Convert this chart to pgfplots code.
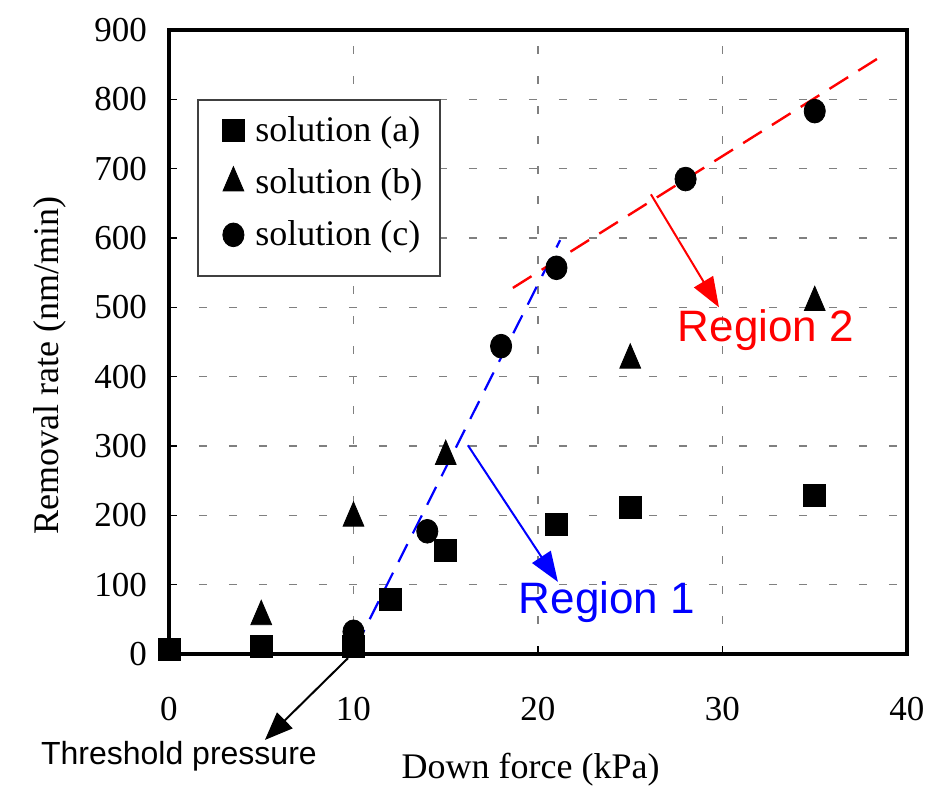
\documentclass[border=0pt]{standalone}
\usepackage{fontspec}
\setmainfont{Liberation Serif}
\newfontfamily\arialfont{Liberation Sans}
\usepackage{pgfplots}
\pgfplotsset{compat=1.18}
\usetikzlibrary{arrows.meta}
\begin{document}
\begin{tikzpicture}
\path[use as bounding box] (-84.5pt,-66pt) rectangle (379.5pt,327pt);
\begin{axis}[
  at={(0pt,0pt)}, anchor=south west,
  scale only axis, width=369pt, height=312pt,
  xmin=0, xmax=40, ymin=0, ymax=900,
  xtick={0,10,...,40}, ytick={0,100,...,900},
  tick align=inside, xtick pos=bottom, ytick pos=left,
  major tick length=4pt,
  tick style={black, line width=0.8pt},
  axis line style={line width=1.7pt},
  grid=major,
  grid style={gray, line width=0.8pt, dash pattern=on 4pt off 11pt},
  clip=false,
  /pgf/number format/assume math mode=true,
  ticklabel style={font=\fontsize{17.5}{20}\selectfont},
  xticklabel style={yshift=-18pt},
  yticklabel style={xshift=-7.5pt},
  xlabel={Down force (kPa)}, ylabel={Removal rate (nm/min)},
  label style={font=\fontsize{18}{20}\selectfont},
  xlabel style={at={(axis description cs:0.49,-0.186)}, anchor=center},
  ylabel style={at={(axis description cs:-0.1612,0.463)}, anchor=center},
  legend cell align=left,
  legend style={draw=none, fill=none, at={(0.0637,0.755)}, anchor=west,
    font=\fontsize{18}{20}\selectfont, row sep=8pt,
    /tikz/every odd column/.append style={column sep=3.5pt}},
]
\draw[black!75, line width=0.7pt, fill=white] (axis cs:1.57,545) rectangle (axis cs:14.69,799);
\addplot[only marks, mark=square*, mark size=5.5pt, black]
  coordinates {(0,7)(5,11.5)(10,11.5)(12,79)(15,149)(21,187)(25,212)(35,229)};
\addlegendentry{solution (a)}
\addplot[only marks, mark=triangle*, mark size=6pt, mark options={yscale=1.35}, black]
  coordinates {(5,54)(10,196)(15,285)(25,424)(35,507)};
\addlegendentry{solution (b)}
\addplot[only marks, mark=*, mark size=5.3pt, mark options={yscale=1.12}, black]
  coordinates {(10,32)(14,177)(18,444)(21,557)(28,685)(35,783)};
\addlegendentry{solution (c)}
\addplot[blue, line width=1.1pt, dash pattern=on 10pt off 6pt, forget plot]
  coordinates {(10.1,9)(21.2,597)};
\addplot[red, line width=1.2pt, dash pattern=on 11pt off 6pt, forget plot]
  coordinates {(18.64,528)(38.54,861)};
\draw[red, line width=1pt, -{Triangle[length=15pt,width=11pt]}] (axis cs:26.12,663) -- (axis cs:29.81,500);
\draw[blue, line width=1pt, -{Triangle[length=15pt,width=11pt]}] (axis cs:16.2,301) -- (axis cs:21.08,104);
\draw[black, line width=1pt, -{Triangle[length=14pt,width=11pt]}] (axis cs:9.7,-6) -- (axis cs:5.2,-124);
\node[red, font=\arialfont\fontsize{22}{24}\selectfont] at (axis cs:32.36,467) {Region 2};
\node[blue, font=\arialfont\fontsize{22}{24}\selectfont] at (axis cs:23.74,75) {Region 1};
\node[black, font=\arialfont\fontsize{16}{18}\selectfont] at (axis cs:0.54,-147) {Threshold pressure};
\end{axis}
\end{tikzpicture}
\end{document}
